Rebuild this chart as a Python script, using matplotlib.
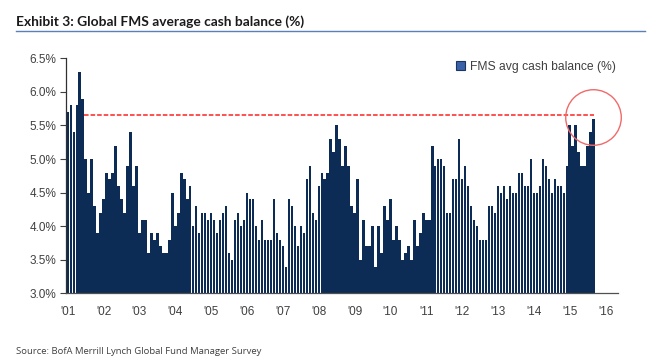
import matplotlib
matplotlib.use("Agg")
import matplotlib.pyplot as plt
from matplotlib.lines import Line2D
import numpy as np

# monthly FMS average cash balance (%), Jan 2001 onwards
cash_pct = [
    5.7, 5.8, 5.4, 5.8, 6.3, 5.9, 5.0, 4.5, 5.0, 4.3, 3.9, 4.2,
    4.4, 4.8, 4.7, 4.8, 5.2, 4.6, 4.4, 4.2, 4.9, 5.4, 4.6, 4.9,
    3.9, 4.1, 4.1, 3.6, 3.9, 3.8, 3.9, 3.7, 3.6, 3.6, 3.8, 4.5,
    4.0, 4.2, 4.8, 4.7, 4.4, 4.6, 4.0, 4.3, 3.9, 4.2, 4.2, 4.1,
    4.2, 4.1, 3.9, 4.1, 4.2, 4.3, 3.6, 3.5, 4.1, 4.2, 4.0, 4.1,
    4.5, 4.4, 4.4, 4.0, 3.8, 4.1, 3.8, 3.8, 3.8, 4.4, 3.9, 3.8,
    3.7, 3.4, 4.4, 4.3, 4.0, 3.7, 4.0, 3.9, 4.7, 4.9, 4.2, 4.1,
    4.6, 4.8, 4.7, 4.8, 5.3, 5.1, 5.5, 5.3, 4.9, 5.2, 4.9, 4.3,
    4.2, 4.7, 3.5, 4.1, 3.7, 3.7, 4.0, 3.4, 4.0, 3.6, 4.3, 4.1,
    4.4, 3.8, 4.0, 3.8, 3.5, 3.6, 3.7, 3.5, 4.1, 3.7, 3.9, 4.2,
    4.1, 4.1, 5.2, 4.9, 5.0, 5.0, 4.9, 4.2, 4.2, 4.7, 4.7, 5.3,
    4.7, 4.9, 4.6, 4.3, 4.1, 4.0, 3.8, 3.8, 3.8, 4.3, 4.3, 4.2,
    4.6, 4.5, 4.6, 4.4, 4.6, 4.5, 4.5, 4.8, 4.8, 4.6, 4.6, 5.0,
    4.5, 4.5, 4.6, 5.0, 4.9, 4.7, 4.5, 4.7, 4.6, 4.6, 4.5, 4.9,
    5.5, 5.2, 5.5, 5.1, 4.9, 4.9, 5.2, 5.4, 5.6,
]
year_labels = ["'01", "'02", "'03", "'04", "'05", "'06", "'07", "'08",
               "'09", "'10", "'11", "'12", "'13", "'14", "'15", "'16"]
y_ticks = [3.0, 3.5, 4.0, 4.5, 5.0, 5.5, 6.0, 6.5]
threshold = 5.65   # dashed reference level
circle_at = (175.75, 5.625)

navy = "#0c2c56"
txt = "#404040"
lab_font = ["Liberation Sans", "DejaVu Sans"]

x = np.arange(len(cash_pct))

fig = plt.figure(figsize=(6.5, 3.61), dpi=100)
ax = fig.add_axes([0.1015, 0.187, 0.849, 0.6515])

ax.bar(x, np.array(cash_pct) - 3.0, bottom=3.0, width=0.82, color=navy,
       linewidth=0, label="FMS avg cash balance (%)")

ax.hlines(threshold, 5.5, x[-1], colors="#ff2020", linestyles=(0, (3.0, 1.3)),
          linewidth=1.1, zorder=3)
ax.plot(*circle_at, marker="o", ms=40, mfc="none", mec="#f06a6a", mew=1.0,
        zorder=4, clip_on=False)

ax.set_xlim(-0.6, 184.1)
ax.set_ylim(3.0, 6.5)
ax.set_yticks(y_ticks)
ax.set_yticklabels([f"{v:.1f}%" for v in y_ticks], fontsize=8.5,
                   color=txt, family=lab_font)
ax.set_xticks(np.arange(len(year_labels)) * 12)
ax.set_xticklabels(year_labels, fontsize=8.5, color=txt, family=lab_font)
ax.tick_params(axis="x", length=0, pad=9)
ax.tick_params(axis="y", length=4, width=0.8, color="#404040", pad=3)

for s in ["top", "right"]:
    ax.spines[s].set_visible(False)
ax.spines["left"].set_color("#303030")
ax.spines["left"].set_linewidth(0.9)
ax.spines["bottom"].set_color("#505050")
ax.spines["bottom"].set_linewidth(0.9)

leg = ax.legend(loc="upper right", bbox_to_anchor=(1.0, 1.0), frameon=False,
                borderaxespad=0.0, borderpad=0.2,
                handlelength=0.7, handleheight=0.7, handletextpad=0.4,
                prop={"family": lab_font, "size": 8.7})
for t in leg.get_texts():
    t.set_color(txt)
for h in leg.legend_handles:
    h.set_facecolor("#3a62a8")
    h.set_edgecolor("#1c3560")
    h.set_linewidth(0.8)

# header with underline and source note
fig.text(16 / 650, 1 - 26 / 361, "Exhibit 3: Global FMS average cash balance (%)",
         fontsize=9.9, fontweight="bold", color="#1a1a1a", va="baseline",
         family=["Lato", "DejaVu Sans"])
fig.add_artist(Line2D([16 / 650, 645 / 650], [1 - 30.5 / 361] * 2,
                      color="#5b7fb8", linewidth=1.0))
fig.text(16 / 650, 1 - 352 / 361, "Source: BofA Merrill Lynch Global Fund Manager Survey",
         fontsize=6.8, color=txt, va="center", family=["Open Sans", "DejaVu Sans"])

fig.savefig("out.png", dpi=100)
